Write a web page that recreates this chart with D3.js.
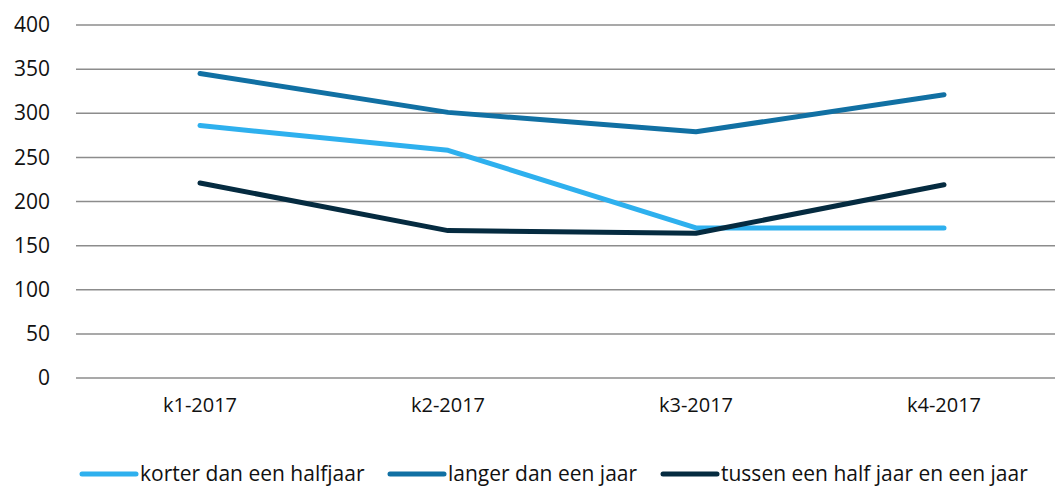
<!DOCTYPE html>
<html>
<head>
<meta charset="utf-8">
<script src="https://cdn.jsdelivr.net/npm/d3@7"></script>
<style>
  body { margin: 0; background: #fff; }
  svg { display: block; font-family: "Open Sans", sans-serif; }
</style>
</head>
<body>
<div id="chart"></div>
<script>
// quarters on the x axis
var categories = ["k1-2017", "k2-2017", "k3-2017", "k4-2017"];
var seriesNames = ["korter dan een halfjaar", "langer dan een jaar", "tussen een half jaar en een jaar"];
var korter = [286, 258, 170, 170];
var langer = [345, 301, 279, 321];
var tussen = [221, 167, 164, 219];
var yTicks = [0, 50, 100, 150, 200, 250, 300, 350, 400];
var colors = ["#2eb0ee", "#1170a3", "#052b40"];

var width = 1055, height = 488;
var margin = {top: 25, left: 76, bottom: 110};
var plotRight = 1068; // last band runs past the picture edge

var svg = d3.select('#chart').append('svg')
  .attr('width', width)
  .attr('height', height);

var x = d3.scaleBand()
  .domain(categories)
  .range([margin.left, plotRight]);

var y = d3.scaleLinear()
  .domain([0, 400])
  .range([height - margin.bottom, margin.top]);

// horizontal gridlines
svg.append('g')
  .selectAll('line')
  .data(yTicks)
  .enter().append('line')
  .attr('x1', margin.left)
  .attr('x2', plotRight)
  .attr('y1', function(d) { return y(d); })
  .attr('y2', function(d) { return y(d); })
  .style('stroke', '#8c8c8c')
  .style('stroke-width', 1.5);

// y axis labels
var yAxis = svg.append('g')
  .attr('transform', 'translate(' + (margin.left - 26) + ',0)')
  .call(d3.axisLeft(y).tickValues(yTicks).tickSize(0).tickPadding(0));
yAxis.select('.domain').remove();
yAxis.selectAll('text')
  .style('font-family', '"Open Sans", sans-serif')
  .style('font-size', '21px')
  .style('fill', '#111');

// x axis labels
var xAxis = svg.append('g')
  .attr('transform', 'translate(0,' + y(0) + ')')
  .call(d3.axisBottom(x).tickSize(0).tickPadding(20));
xAxis.select('.domain').remove();
xAxis.selectAll('text')
  .style('font-family', '"Open Sans", sans-serif')
  .style('font-size', '20px')
  .style('fill', '#111');

var data = [korter, langer, tussen];

var line = d3.line()
  .x(function(d, i) { return x(categories[i]) + x.bandwidth() / 2; })
  .y(function(d) { return y(d); });

svg.append('g')
  .selectAll('path')
  .data(data)
  .enter().append('path')
  .attr('d', line)
  .style('fill', 'none')
  .style('stroke', function(d, i) { return colors[i]; })
  .style('stroke-width', 5)
  .style('stroke-linecap', 'round')
  .style('stroke-linejoin', 'round');

// legend
var legendX = [82, 390, 663];
var legend = svg.append('g')
  .selectAll('g')
  .data(seriesNames)
  .enter().append('g')
  .attr('transform', function(d, i) { return 'translate(' + legendX[i] + ',474)'; });

legend.append('line')
  .attr('x1', 0)
  .attr('x2', 54)
  .style('stroke', function(d, i) { return colors[i]; })
  .style('stroke-width', 5)
  .style('stroke-linecap', 'round');

legend.append('text')
  .attr('x', 58)
  .attr('dy', '0.35em')
  .text(function(d) { return d; })
  .style('font-size', '21px')
  .style('fill', '#111');
</script>
</body>
</html>
